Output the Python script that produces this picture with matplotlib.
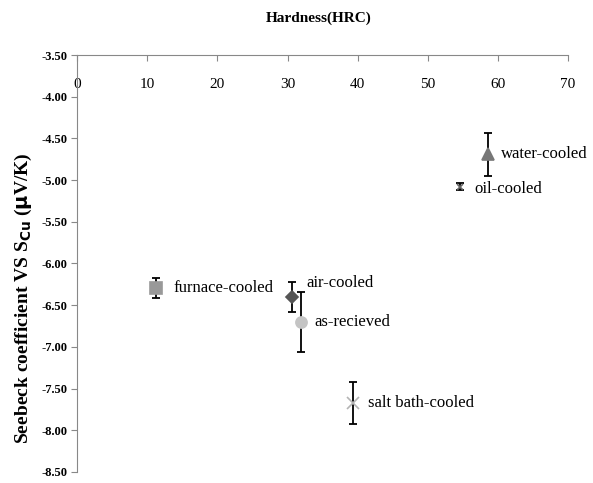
import numpy as np
from matplotlib import pyplot as plt

plt.rcParams['font.family'] = ['Liberation Serif', 'DejaVu Serif']

# hardness (HRC), seebeck (uV/K), error
names = ["furnace-cooled", "air-cooled", "as-recieved", "salt bath-cooled", "water-cooled", "oil-cooled"]
hardness = [11.3, 30.6, 31.9, 39.4, 58.6, 54.6]
seebeck = [-6.30, -6.40, -6.70, -7.67, -4.69, -5.08]
errors = [0.12, 0.18, 0.36, 0.25, 0.26, 0.04]

markers = ["s", "D", "o", "x", "^", "x"]
colors = ["#999999", "#555555", "#c4c4c4", "#b4b4b4", "#777777", "#666666"]
sizes = [8, 6, 8, 8, 8, 4]
# label offsets in pixels
offs = [(17, 0), (15, 14), (14, 0), (15, 0), (13, 0), (14, -2)]

fig = plt.figure(figsize=(5.93, 4.83), dpi=100)
ax = fig.add_axes([0.13, 0.023, 0.828, 0.863])

for i in range(len(names)):
    ax.errorbar(hardness[i], seebeck[i], yerr=errors[i], fmt='none',
                ecolor='black', elinewidth=1.3, capsize=3, capthick=1.3, zorder=2)
    ax.plot(hardness[i], seebeck[i], marker=markers[i], color=colors[i],
            markersize=sizes[i], linestyle='none', markeredgewidth=1.2, zorder=3)
    ax.annotate(names[i], (hardness[i], seebeck[i]), xytext=offs[i],
                textcoords='offset pixels', ha='left', va='center', fontsize=12)

ax.set_xlim(0, 70)
ax.set_ylim(-8.5, -3.5)
ax.set_xticks(np.arange(0, 71, 10))
ax.set_yticks(np.arange(-8.5, -3.49, 0.5))
ax.set_yticklabels(["%.2f" % v for v in np.arange(-8.5, -3.49, 0.5)], fontweight='bold', fontsize=9)

ax.xaxis.tick_top()
ax.tick_params(axis='x', direction='in', length=4, pad=-26, labelsize=11, color='#888888')
ax.tick_params(axis='y', direction='out', length=4, pad=3, color='#888888')

for s in ['right', 'bottom']:
    ax.spines[s].set_visible(False)
for s in ['left', 'top']:
    ax.spines[s].set_color('#888888')

fig.text(0.537, 0.962, "Hardness(HRC)", ha='center', va='center', fontsize=11, fontweight='bold')
fig.text(0.039, 0.383, r"Seebeck coefficient VS S$_{\mathbf{Cu}}$ ($\mathbf{\mu}$V/K)",
         rotation=90, ha='center', va='center', fontsize=14, fontweight='bold')

fig.savefig("out.png", dpi=100)
